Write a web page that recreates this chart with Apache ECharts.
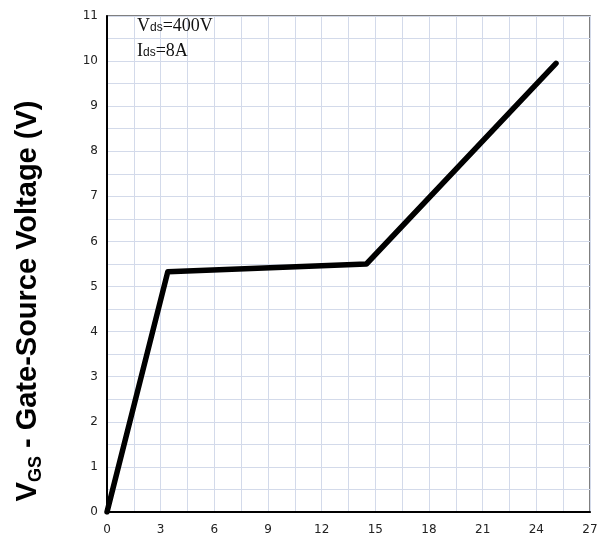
<!DOCTYPE html>
<html>
<head>
<meta charset="utf-8">
<script src="https://cdn.jsdelivr.net/npm/echarts@6/dist/echarts.min.js"></script>
<style>
  html, body { margin: 0; padding: 0; background: #fff; }
  #chart { width: 608px; height: 536px; }
</style>
</head>
<body>
<div id="chart"></div>
<script>
// Gate charge curve: gate-source voltage vs. gate charge
const gateCharge = [0, 3.4, 14.5, 25.1];
const gateVoltage = [0, 5.33, 5.5, 9.95];
const xTicks = [0, 3, 6, 9, 12, 15, 18, 21, 24, 27];
const yTicks = [0, 1, 2, 3, 4, 5, 6, 7, 8, 9, 10, 11];

const curve = gateCharge.map((q, i) => [q, gateVoltage[i]]);

const chart = echarts.init(document.getElementById('chart'));
const gridColor = '#d3daea';
const labelFont = { color: '#222', fontSize: 12, fontFamily: 'DejaVu Sans' };

chart.setOption({
  animation: false,
  grid: {
    left: 107, right: 18, top: 16, bottom: 23,
    show: true, borderColor: '#555', borderWidth: 1.5, backgroundColor: '#fff'
  },
  xAxis: {
    type: 'value',
    min: xTicks[0], max: xTicks[xTicks.length - 1], interval: 3,
    axisLine: { show: true, onZero: false, lineStyle: { color: '#000', width: 2 } },
    axisTick: { show: false },
    axisLabel: Object.assign({ margin: 12, showMaxLabel: true, showMinLabel: true,
      formatter: v => xTicks.includes(v) ? String(v) : '' }, labelFont),
    splitLine: { show: true, lineStyle: { color: gridColor, width: 1 } },
    minorTick: { show: false, splitNumber: 2 },
    minorSplitLine: { show: true, lineStyle: { color: gridColor, width: 1 } }
  },
  yAxis: {
    type: 'value',
    min: yTicks[0], max: yTicks[yTicks.length - 1], interval: 1,
    axisLine: { show: true, onZero: false, lineStyle: { color: '#000', width: 2 } },
    axisTick: { show: false },
    axisLabel: Object.assign({ margin: 9,
      formatter: v => yTicks.includes(v) ? String(v) : '' }, labelFont),
    splitLine: { show: true, lineStyle: { color: gridColor, width: 1 } },
    minorTick: { show: false, splitNumber: 2 },
    minorSplitLine: { show: true, lineStyle: { color: gridColor, width: 1 } }
  },
  series: [{
    type: 'line',
    data: curve,
    showSymbol: false,
    lineStyle: { color: '#000', width: 5.5, join: 'round', cap: 'round' },
    z: 5
  }],
  graphic: [
    {
      type: 'text',
      x: 28, y: 301,
      rotation: Math.PI / 2,
      style: {
        text: '{a|V}{b|GS}{a| - Gate-Source Voltage (V)}',
        align: 'center',
        verticalAlign: 'middle',
        rich: {
          a: { fontFamily: 'Liberation Sans', fontWeight: 'bold', fontSize: 29, fill: '#000', lineHeight: 34 },
          b: { fontFamily: 'Liberation Sans', fontWeight: 'bold', fontSize: 18, fill: '#000', lineHeight: 34, verticalAlign: 'bottom', padding: [12, 0, 0, 0] }
        }
      }
    },
    {
      type: 'text',
      x: 137, y: 17,
      z: 10,
      style: {
        text: '{a|V}{b|ds}{a|=400V}',
        rich: {
          a: { fontFamily: 'Liberation Serif', fontSize: 18, fill: '#111' },
          b: { fontFamily: 'Liberation Sans', fontSize: 12, fill: '#111', padding: [4, 0, 0, 0] }
        }
      }
    },
    {
      type: 'text',
      x: 137, y: 42,
      z: 10,
      style: {
        text: '{a|I}{b|ds}{a|=8A}',
        rich: {
          a: { fontFamily: 'Liberation Serif', fontSize: 18, fill: '#111' },
          b: { fontFamily: 'Liberation Sans', fontSize: 12, fill: '#111', padding: [4, 0, 0, 0] }
        }
      }
    }
  ]
});
</script>
</body>
</html>
